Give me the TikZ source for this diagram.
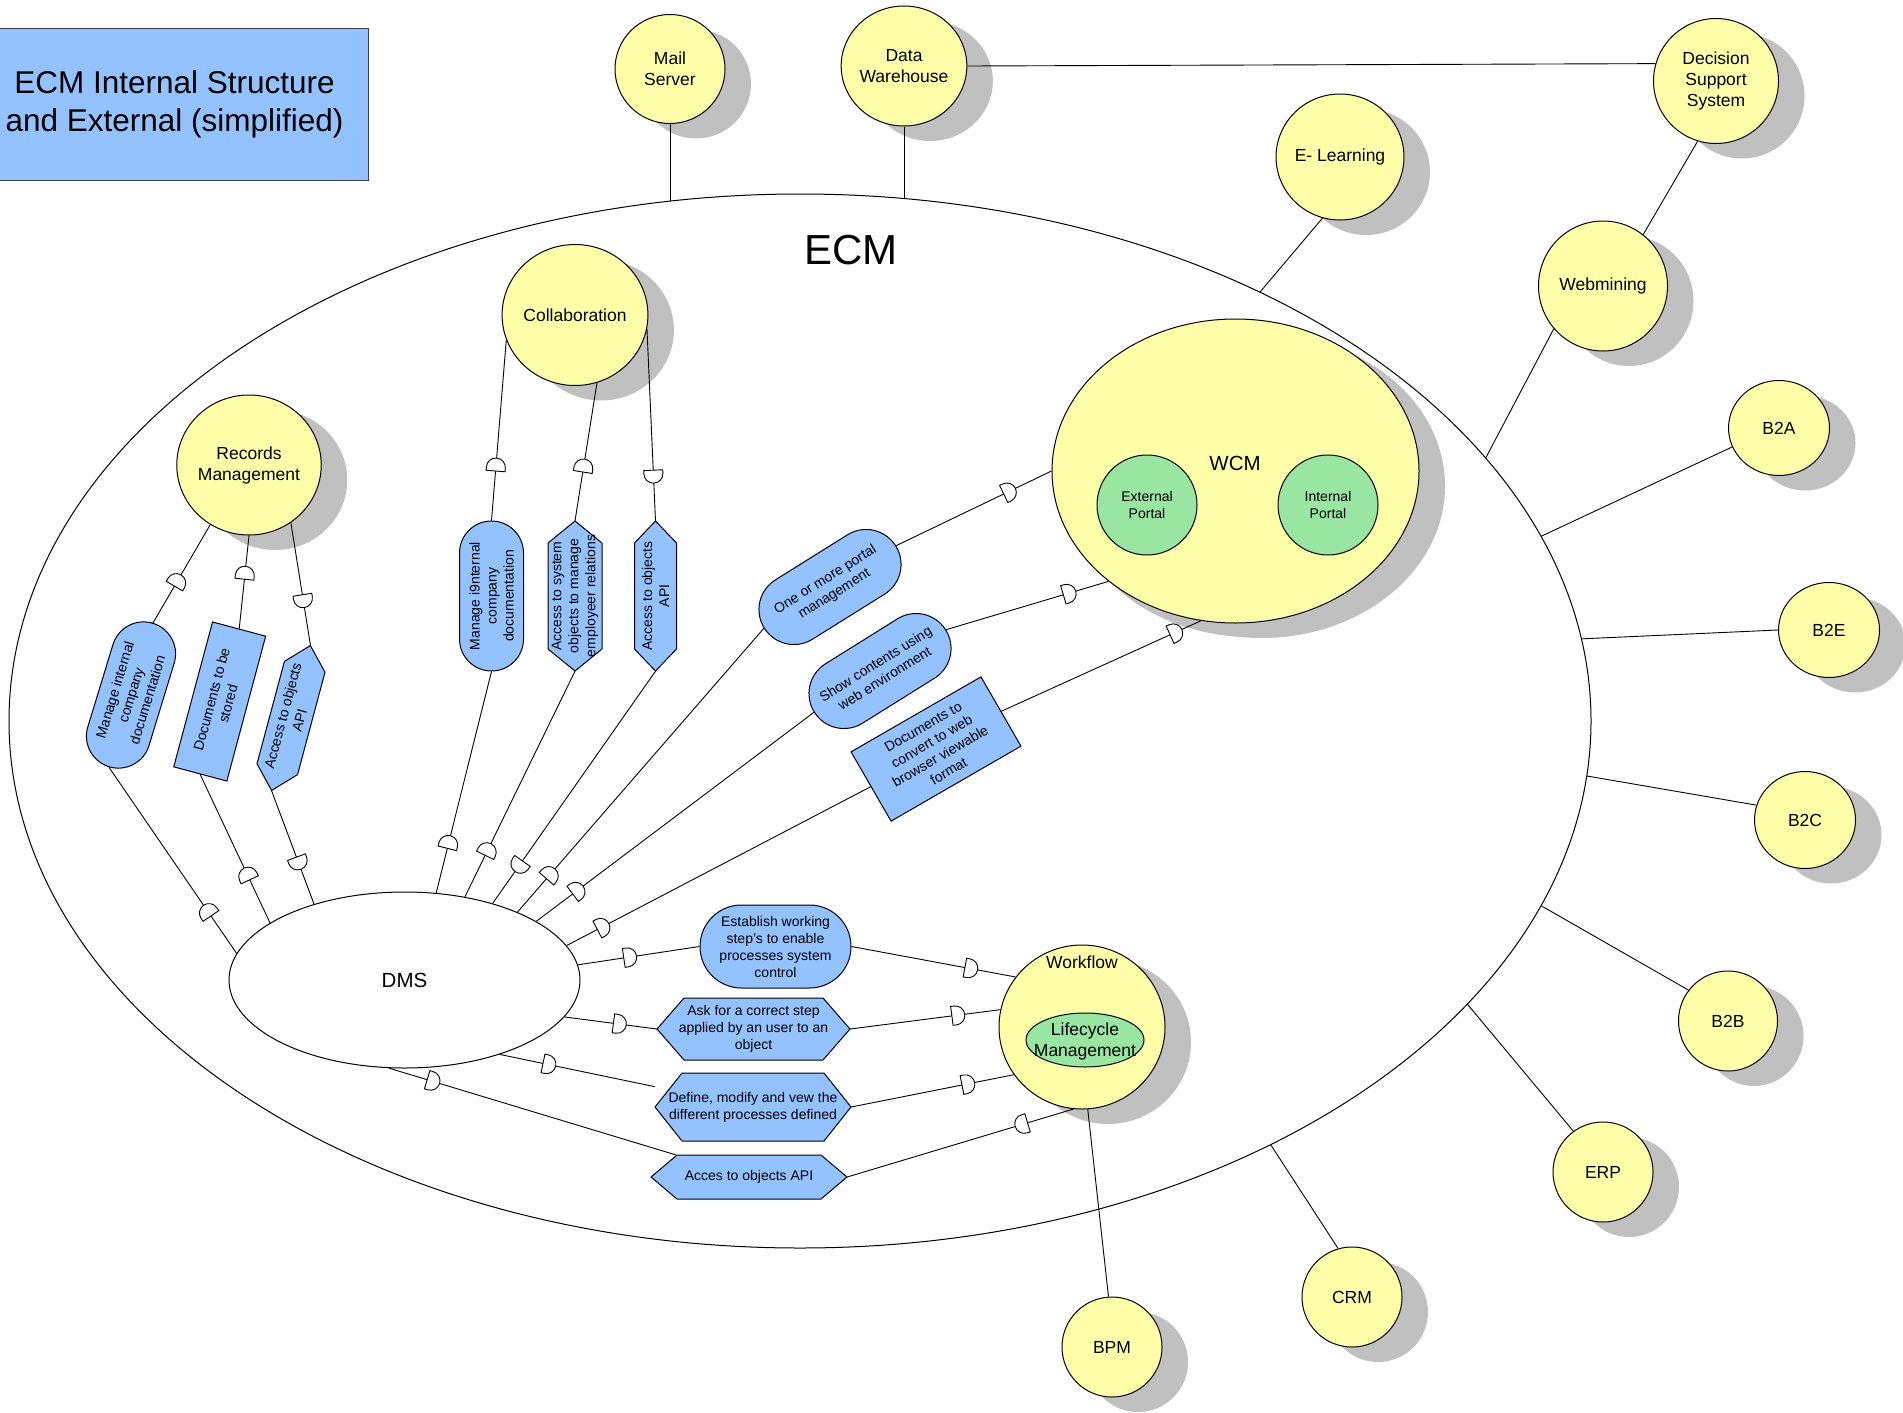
\documentclass[tikz,border=0pt]{standalone}
\usepackage{fontspec}
\setmainfont{Liberation Sans}
\usetikzlibrary{shapes.geometric,shadows,decorations.markings}

\definecolor{yelfill}{RGB}{255,255,170}
\definecolor{bluefill}{RGB}{148,194,255}
\definecolor{greenfill}{RGB}{153,230,163}
\definecolor{shadowgray}{RGB}{192,192,192}
\definecolor{framegray}{RGB}{60,60,70}

\newcommand{\fs}[2]{\fontsize{#1}{#2}\selectfont}

% half-disc connector marks, dome pointing forward / backward along the line
\newcommand{\dmark}{\draw[fill=white,line width=0.9pt] (-6.5,-9.5) -- (-6.5,9.5) -- (-3,9.5) arc[start angle=90,end angle=-90,radius=9.5] -- cycle;}
\newcommand{\dmarkrev}{\draw[fill=white,line width=0.9pt] (6.5,-9.5) -- (6.5,9.5) -- (3,9.5) arc[start angle=90,end angle=270,radius=9.5] -- cycle;}

% hexagon with pointed ends: name, centre, angle, length, width, tip, text
\newcommand{\hexbox}[7]{%
  \begin{scope}[shift={#2},rotate=#3]
    \draw[line width=1pt,fill=bluefill] (-#4/2,0) -- (-#4/2+#6,#5/2) -- (#4/2-#6,#5/2) -- (#4/2,0) -- (#4/2-#6,-#5/2) -- (-#4/2+#6,-#5/2) -- cycle;
  \end{scope}
  \node[tasktext,rotate=#3,minimum width=#4,minimum height=#5] (#1) at #2 {#7};}

\tikzset{
  ext/.style={ellipse,draw,line width=1pt,fill=yelfill,inner sep=0pt,align=center,
    font=\fs{17.5}{21},
    drop shadow={shadow xshift=26pt,shadow yshift=-15pt,fill=shadowgray,opacity=1}},
  portal/.style={circle,draw,line width=1pt,fill=greenfill,inner sep=0pt,align=center,font=\fs{14}{17}},
  tasktext/.style={align=center,font=\fs{14}{17},inner sep=0pt},
  taskrect/.style={rectangle,draw,line width=1pt,fill=bluefill,tasktext},
  stadium/.style={taskrect,rounded corners=#1},
  link/.style={line width=0.9pt},
  dm/.style={postaction={decorate,decoration={markings,mark=at position #1 with {\dmark}}}},
  dmr/.style={postaction={decorate,decoration={markings,mark=at position #1 with {\dmarkrev}}}},
}

\begin{document}
\begin{tikzpicture}[x=1pt,y=-1pt]
\useasboundingbox (0,0) rectangle (1903,1413);

% enterprise content management boundary
\node[ellipse,draw,line width=1pt,minimum width=1582,minimum height=1054,inner sep=0pt] (ecm) at (800,721) {};
\node[font=\fs{42}{48}] (ecmlabel) at (851,250) {ECM};

% title
\node[rectangle,draw=framegray,line width=1pt,fill=bluefill,minimum width=388,minimum height=152,
      anchor=north west,align=center,inner sep=0pt,font=\fs{31.5}{38}] (title) at (-20,28)
      {ECM Internal Structure\\and External (simplified)};

% external systems
\node[ext,minimum width=110,minimum height=109] (mail) at (670,69) {Mail\\Server};
\node[ext,minimum width=123,minimum height=120] (dw) at (904,66) {Data\\Warehouse};
\node[ext,minimum width=125,minimum height=125] (dss) at (1716,81) {Decision\\Support\\System};
\node[ext,minimum width=126,minimum height=126] (el) at (1340,157) {E- Learning};
\node[ext,minimum width=129,minimum height=130] (web) at (1603,286) {Webmining};
\node[ext,minimum width=101,minimum height=95] (b2a) at (1779,428) {B2A};
\node[ext,minimum width=101,minimum height=95] (b2e) at (1829,630) {B2E};
\node[ext,minimum width=101,minimum height=97] (b2c) at (1805,820) {B2C};
\node[ext,minimum width=99,minimum height=100] (b2b) at (1728,1021) {B2B};
\node[ext,minimum width=100,minimum height=100] (erp) at (1603,1172) {ERP};
\node[ext,minimum width=100,minimum height=100] (crm) at (1352,1297) {CRM};
\node[ext,minimum width=100,minimum height=100] (bpm) at (1112,1347) {BPM};

% internal components
\node[ext,minimum width=140,minimum height=140] (rm) at (249,465) {Records\\Management};
\node[ext,minimum width=141,minimum height=141] (col) at (575,315) {Collaboration};
\node[ext,minimum width=367,minimum height=304,
      drop shadow={shadow xshift=16pt,shadow yshift=-14pt,fill=shadowgray,opacity=1}] (wcm) at (1235.5,471) {};
\node[font=\fs{20.5}{24}] (wcmlabel) at (1235,463) {WCM};
\node[portal,minimum size=100] (extp) at (1147,505) {External\\Portal};
\node[portal,minimum size=100] (intp) at (1328,505) {Internal\\Portal};
\node[ext,minimum width=166,minimum height=164] (wf) at (1082,1027) {};
\node[font=\fs{17.5}{21}] (wflabel) at (1082,962) {Workflow};
\node[ellipse,draw,line width=1pt,fill=greenfill,inner sep=0pt,minimum width=118,minimum height=54] (lcm) at (1085,1040) {};
\node[align=center,font=\fs{17.5}{21}] (lcmlabel) at (1085,1041) {Lifecycle\\Management};
\node[ellipse,draw,line width=1pt,fill=white,minimum width=351,minimum height=176,inner sep=0pt,
      font=\fs{20.5}{24}] (dms) at (404.5,980) {DMS};

% tasks of records management
\node[stadium=32pt,rotate=73,minimum width=150,minimum height=64] (rm1) at (131,695)
  {Manage internal\\company\\documentation};
\node[taskrect,rotate=75,minimum width=150,minimum height=55] (rm2) at (219.7,701.5)
  {Documents to be\\stored};
\hexbox{rm3}{(291,718)}{75}{150}{42}{22}{Access to objects\\API}

% tasks of collaboration
\node[stadium=32pt,rotate=90,minimum width=150,minimum height=64] (c1) at (491.5,596)
  {Manage i9nternal\\company\\documentation};
\hexbox{c2}{(575,596)}{90}{150}{54}{22}{Access to system\\objects to manage\\employeer relations}
\hexbox{c3}{(655.5,596)}{90}{150}{42}{22}{Access to objects\\API}

% tasks of web content management
\node[stadium=35pt,rotate=32,minimum width=155,minimum height=70] (w1) at (830,587)
  {One or more portal\\management};
\node[stadium=35pt,rotate=32,minimum width=155,minimum height=70] (w2) at (880,671)
  {Show contents using\\web environment};
\node[taskrect,rotate=30,minimum width=150,minimum height=80] (w3) at (936,749)
  {Documents to\\convert to web\\browser viewable\\format};

% tasks of workflow
\node[stadium=41.5pt,minimum width=151,minimum height=83] (f1) at (775.5,946.5)
  {Establish working\\step’s to enable\\processes system\\control};
\hexbox{f2}{(753.5,1029)}{0}{193}{62}{27}{Ask for a correct step\\applied by an user to an\\object}
\hexbox{f3}{(753,1107)}{0}{196}{68}{27}{Define, modify and vew the\\different processes defined}
\hexbox{f4}{(749,1177)}{0}{196}{44}{26}{Acces to objects API}

% links to the outside
\draw[link] (mail.270) -- (mail.270 |- ecm.104);
\draw[link] (dw.270) -- (dw.270 |- ecm.78.7);
\draw[link] (dw.0) -- (dss.164);
\draw[link] (dss.253) -- (web.52);
\draw[link] (el.254) -- (ecm.43.2);
\draw[link] (web.221) -- (ecm.21.6);
\draw[link] (b2a.202) -- (ecm.14.3);
\draw[link] (b2e.180) -- (ecm.6.2);
\draw[link] (b2c.163) -- (ecm.-4);
\draw[link] (b2b.142) -- (ecm.-14.1);
\draw[link] (erp.126) -- (ecm.-23.5);
\draw[link] (crm.106) -- (ecm.-42.7);
\draw[link] (bpm.94) -- (wf.274);

% records management
\draw[link,dmr=0.57] (rm.237) -- (rm1.east);
\draw[link,dmr=0.40] (rm.270) -- (rm2.east);
\draw[link,dm=0.64] (rm.306) -- (rm3.east);
\draw[link,dmr=0.77] (rm1.west) -- (dms.171.5);
\draw[link,dmr=0.67] (rm2.west) -- (dms.157);
\draw[link,dm=0.64] (rm3.west) -- (dms.140.3);

% collaboration
\draw[link,dmr=0.69] (col.200.6) -- (c1.east);
\draw[link,dmr=0.60] (col.288.4) -- (c2.east);
\draw[link,dm=0.77] (col.349) -- (c3.east);
\draw[link,dmr=0.77] (c1.west) -- (dms.70.6);
\draw[link,dmr=0.79] (c2.west) -- (dms.54.8);
\draw[link,dm=0.84] (c3.west) -- (dms.41.2);

% web content management
\draw[link,dm=0.73] (w1.east) -- (wcm.180);
\draw[link,dm=0.76] (w2.east) -- (wcm.221.3);
\draw[link,dm=0.875] (w3.east) -- (wcm.257.4);
\draw[link,dmr=0.865] (w1.west) -- (dms.31.8);
\draw[link,dmr=0.85] (w2.west) -- (dms.24.2);
\draw[link,dmr=0.88] (w3.west) -- (dms.12.6);

% workflow
\draw[link,dm=0.43] (dms.5.6) -- (f1.west);
\draw[link,dm=0.73] (f1.east) -- (wf.143.5);
\draw[link,dm=0.60] (dms.-13.1) -- (f2.west);
\draw[link,dm=0.72] (f2.east) -- (wf.168.4);
\draw[link,dm=0.32] (dms.-38.9) -- (f3);
\draw[link,dm=0.72] (f3.east) -- (wf.215.3);
\draw[link,dm=0.155] (dms.260.5) -- (f4);
\draw[link,dmr=0.77] (f4.east) -- (wf.264);
\end{tikzpicture}
\end{document}
